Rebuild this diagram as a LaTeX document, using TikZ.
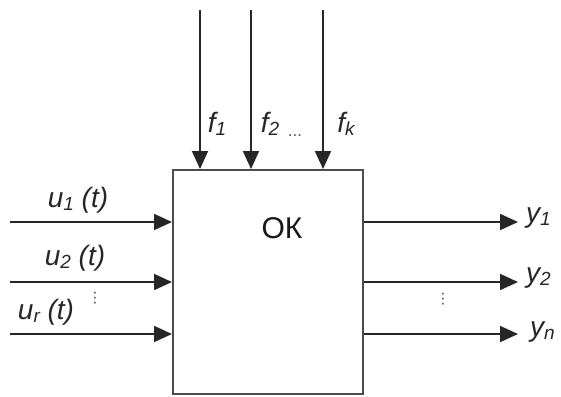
\documentclass[tikz,border=0pt]{standalone}
\usepackage{fontspec}
\setmainfont{Liberation Sans}
\usetikzlibrary{arrows.meta}
\newcommand{\sbs}[1]{\raisebox{-3pt}{\fontsize{19}{19}\selectfont #1}}
\tikzset{
  sig/.style={line width=1.8pt, draw=black!85, -{Triangle[length=18pt,width=16pt]}},
  lbl/.style={font=\fontsize{28}{30}\selectfont\itshape, inner sep=0pt, text=black!85},
  vdots/.style={font=\fontsize{17}{17}\selectfont, inner sep=0pt, text=black!65},
}
\begin{document}
\begin{tikzpicture}[x=1pt,y=-1pt]
\useasboundingbox (0,0) rectangle (561,396);
\node[draw=black!70, line width=1.8pt, minimum width=190pt, minimum height=224pt, inner sep=0pt, anchor=north west] (ok) at (172,169) {};
\node[font=\fontsize{30}{32}\selectfont, text=black!90, inner sep=0pt] (okl) at (282,228) {ОК};
% top inputs
\coordinate (t1) at (200,10);
\coordinate (t2) at (251,10);
\coordinate (t3) at (323,10);
\draw[sig] (t1) -- (t1 |- ok.north);
\draw[sig] (t2) -- (t2 |- ok.north);
\draw[sig] (t3) -- (t3 |- ok.north);
\node[lbl] (f1) at (217,124) {f\sbs{1}};
\node[lbl] (f2) at (270,124) {f\sbs{2}};
\node[vdots] (fd) at (295,136) {...};
\node[lbl] (fk) at (346,124) {f\sbs{k}};
% left inputs
\coordinate (l1) at (10,222);
\coordinate (l2) at (10,282);
\coordinate (l3) at (10,334);
\draw[sig] (l1) -- (l1 -| ok.west);
\draw[sig] (l2) -- (l2 -| ok.west);
\draw[sig] (l3) -- (l3 -| ok.west);
\node[lbl] (u1) at (78,200) {u\sbs{1} (t)};
\node[lbl] (u2) at (75,258) {u\sbs{2} (t)};
\node[lbl] (ur) at (46,312) {u\sbs{r} (t)};
\node[vdots, rotate=90] (ud) at (95,298) {...};
% outputs
\coordinate (r1) at (518,222);
\coordinate (r2) at (518,282);
\coordinate (r3) at (518,334);
\draw[sig] (r1 -| ok.east) -- (r1);
\draw[sig] (r2 -| ok.east) -- (r2);
\draw[sig] (r3 -| ok.east) -- (r3);
\node[lbl, anchor=west] (y1) at (526,218) {y\sbs{1}};
\node[lbl, anchor=west] (y2) at (526,278) {y\sbs{2}};
\node[lbl, anchor=west] (yn) at (530,332) {y\sbs{n}};
\node[vdots, rotate=90] (yd) at (443,299) {...};
\end{tikzpicture}
\end{document}
